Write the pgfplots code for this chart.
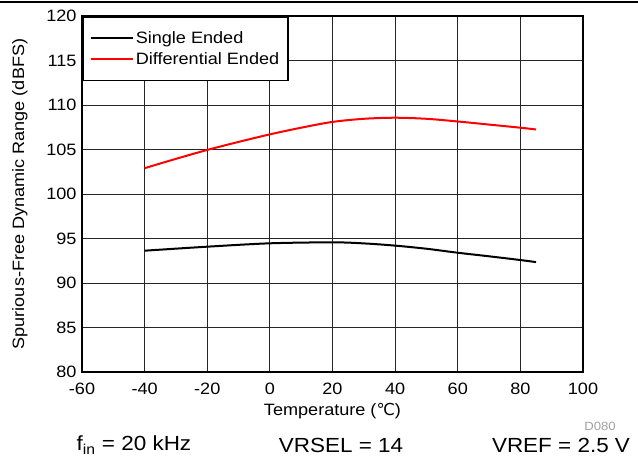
\documentclass[border=0pt]{standalone}
\usepackage{fontspec}
\setmainfont{Liberation Sans}[FakeStretch=1.1]
\newfontfamily\dejavu{DejaVu Sans}
\usepackage{pgfplots}
\pgfplotsset{compat=1.18}
\definecolor{dgray}{RGB}{160,160,160}
\begin{document}
\begin{tikzpicture}
\path[use as bounding box] (-82bp,-89bp) rectangle (556bp,372bp);
\draw[line width=1.5bp] (-82bp,370bp) -- (556bp,370bp);
\begin{axis}[
 at={(0,0)}, anchor=south west,
 scale only axis, width=501bp, height=356bp,
 xmin=-60,xmax=100,ymin=80,ymax=120,
 xtick={-60,-40,...,100}, ytick={80,85,...,120},
 grid=major, major grid style={black!85, line width=0.8bp},
 major tick length=0pt,
 axis line style={line width=2.3bp},
 /pgf/number format/assume math mode=true,
 tick label style={font=\fontsize{16.5}{18}\selectfont},
 xticklabel style={yshift=-8bp},
 yticklabel style={xshift=-2bp},
 ylabel={Spurious-Free Dynamic Range (dBFS)},
 xlabel={Temperature ({\dejavu ℃})},
 label style={font=\fontsize{16.5}{18}\selectfont},
 xlabel style={yshift=-1bp},
 ylabel style={yshift=12bp},
 legend style={at={(0,1)}, anchor=north west, draw=black, line width=1.6bp, fill=white, font=\fontsize{16.5}{18}\selectfont, inner xsep=7bp, inner ysep=13bp, row sep=3bp},
 legend cell align=left,
 legend image code/.code={\draw[#1, line width=2bp] (0bp,0bp) -- (35bp,0bp); \path (0bp,0bp) -- (42bp,0bp);},
]
\addplot[black, line width=2bp, smooth] coordinates {
(-40,93.63) (-20,94.08) (0,94.46) (20,94.57) (30,94.45) (40,94.2) (50,93.85) (60,93.4) (70,93.0) (80,92.58) (85,92.35)
};
\addlegendentry{Single Ended}
\addplot[red, line width=2bp, smooth] coordinates {
(-40,102.9) (-30,103.95) (-20,104.95) (-10,105.85) (0,106.7) (10,107.45) (20,108.1) (30,108.45) (40,108.57) (50,108.45) (60,108.15) (70,107.8) (80,107.45) (85,107.25)
};
\addlegendentry{Differential Ended}
\end{axis}
\node[font=\fontsize{20.5}{24}\selectfont] at (52bp,-73bp) {f\textsubscript{in} = 20 kHz};
\node[font=\fontsize{20.5}{24}\selectfont] at (259bp,-73bp) {VRSEL = 14};
\node[font=\fontsize{20.5}{24}\selectfont] at (479bp,-73bp) {VREF = 2.5 V};
\node[font=\fontsize{12}{14}\selectfont, text=dgray] at (518bp,-54bp) {D080};
\end{tikzpicture}
\end{document}
